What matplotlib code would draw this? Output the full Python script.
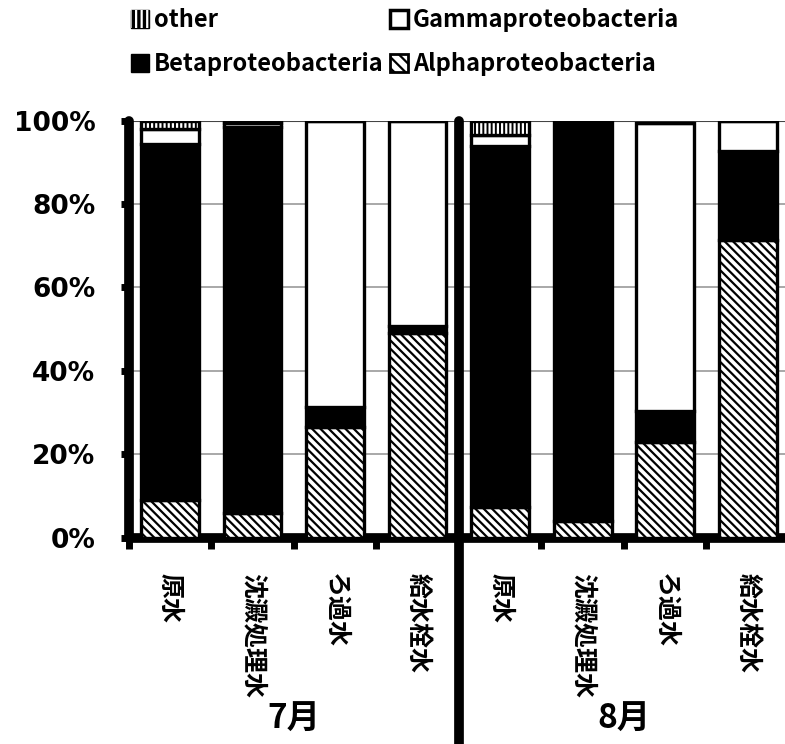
import matplotlib
matplotlib.use("Agg")
import matplotlib.pyplot as plt
import numpy as np
from matplotlib.patches import Patch
from matplotlib.legend_handler import HandlerTuple

plt.rcParams['font.family'] = ['Noto Sans CJK JP', 'DejaVu Sans']
plt.rcParams['hatch.linewidth'] = 1.6

# data (percent of reads)
sites = ['原水', '沈澱処理水', 'ろ過水', '給水栓水', '原水', '沈澱処理水', 'ろ過水', '給水栓水']
months = ['7月', '8月']
alpha = [9.1, 6.0, 26.6, 49.0, 7.4, 4.1, 22.9, 71.3]
beta = [85.2, 92.5, 4.7, 1.7, 86.5, 95.9, 7.6, 21.3]
gamma = [3.7, 0.9, 68.7, 49.3, 2.6, 0.0, 68.9, 7.4]
other = [2.0, 0.6, 0.0, 0.0, 3.5, 0.0, 0.0, 0.0]
yticks = [0, 20, 40, 60, 80, 100]

fig = plt.figure(figsize=(7.85, 7.44), dpi=100)
ax = fig.add_axes([0.164, 0.277, 0.841, 0.561])

x = np.arange(len(sites))
w = 0.7
lw = 2.4
b1 = np.array(alpha)
b2 = b1 + np.array(beta)
b3 = b2 + np.array(gamma)

ax.bar(x, alpha, w, color='white', edgecolor='black', hatch='\\\\\\\\', linewidth=lw, zorder=3)
ax.bar(x, beta, w, bottom=b1, color='black', edgecolor='black', linewidth=lw, zorder=3)
ax.bar(x, gamma, w, bottom=b2, color='white', edgecolor='black', linewidth=lw, zorder=3)
# other: black with white vertical stripes
ax.bar(x, other, w, bottom=b3, color='black', edgecolor='white', hatch='||||', linewidth=0, zorder=3)
ax.bar(x, other, w, bottom=b3, color='none', edgecolor='black', linewidth=lw, zorder=4)

ax.set_xlim(-0.5, 7.5)
ax.set_ylim(0, 100)
ax.set_yticks(yticks)
ax.set_yticklabels([f'{v}%' for v in yticks])
for t in ax.get_yticklabels():
    t.set_fontfamily(['DejaVu Sans'])
    t.set_fontweight('bold')
    t.set_fontsize(19)
ax.set_xticks(np.arange(-0.5, 8, 1.0))
ax.set_xticklabels([])
ax.grid(axis='y', color='#999999', linewidth=1.2, zorder=0)
ax.set_axisbelow(True)
ax.tick_params(axis='y', length=6, width=5, pad=18)
ax.tick_params(axis='x', length=8, width=5)

for s in ['top', 'right']:
    ax.spines[s].set_visible(False)
for s in ['left', 'bottom']:
    ax.spines[s].set_linewidth(7)
    ax.spines[s].set_capstyle('round')
ax.axhline(100, color='#444444', linewidth=1.5, zorder=1)

# group separator
ax.axvline(3.5, ymin=-0.5, ymax=1.0, color='black', linewidth=7,
           solid_capstyle='round', clip_on=False, zorder=5)

tr = ax.get_xaxis_transform()
for i, s in enumerate(sites):
    ax.text(i, -0.085, s, transform=tr, rotation=-90, ha='center', va='top',
            fontsize=18, fontweight='bold')
for j, m in enumerate(months):
    ax.text(1.5 + 4 * j, -0.435, m, transform=tr, ha='center', va='center',
            fontsize=24, fontweight='bold')

other_h = (Patch(facecolor='black', edgecolor='black', linewidth=1),
           Patch(facecolor='none', edgecolor='white', hatch='|||', linewidth=0))
handles = [
    other_h,
    Patch(facecolor='black', edgecolor='black'),
    Patch(facecolor='white', edgecolor='black', linewidth=2.5),
    Patch(facecolor='white', edgecolor='black', hatch='\\\\\\', linewidth=2),
]
labels = ['other', 'Betaproteobacteria', 'Gammaproteobacteria', 'Alphaproteobacteria']
fig.legend(handles=handles, labels=labels, ncol=2, loc='upper left', bbox_to_anchor=(0.14, 1.018),
           frameon=False, prop={'weight': 'bold', 'size': 17}, handlelength=0.75,
           handleheight=0.8, handletextpad=0.2, columnspacing=0.3, labelspacing=0.85,
           handler_map={tuple: HandlerTuple(ndivide=1, pad=0)})

fig.savefig('out.png', dpi=100)
